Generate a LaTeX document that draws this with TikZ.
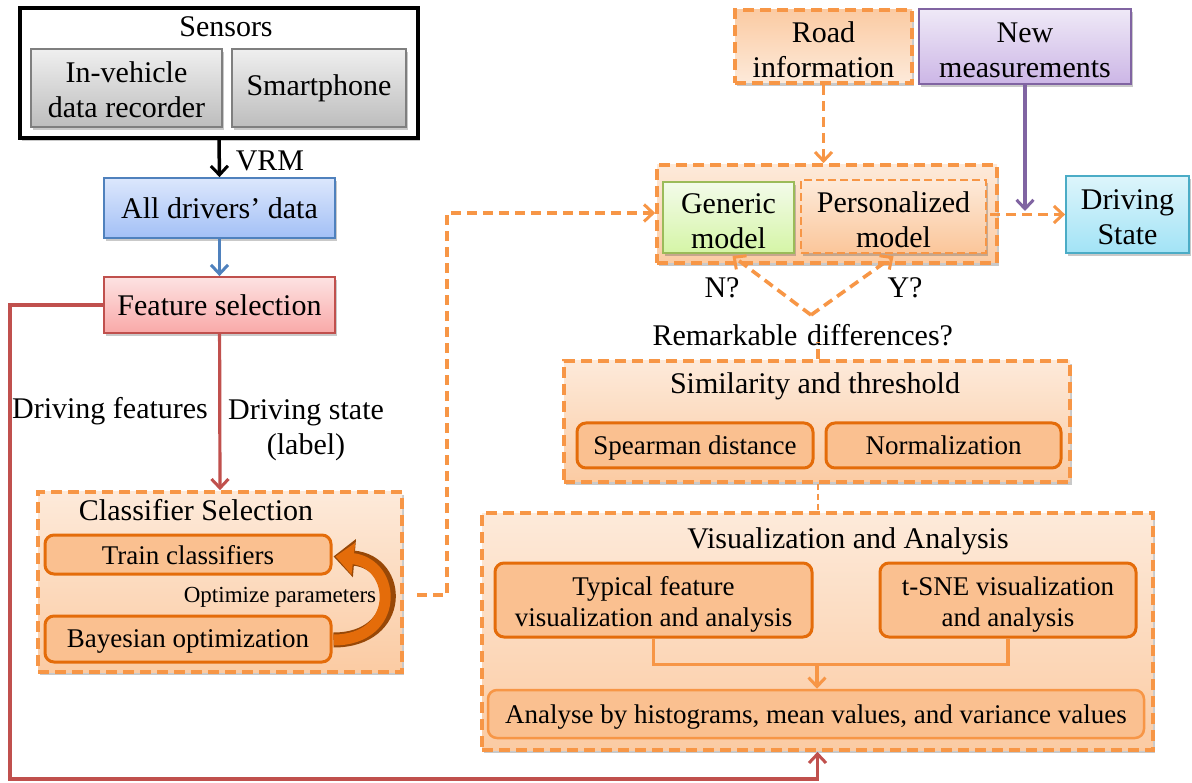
\documentclass[tikz,border=0pt]{standalone}
\usepackage{fontspec}
\setmainfont{Liberation Serif}
\usetikzlibrary{arrows.meta,shadows,calc}

\definecolor{ogLine}{HTML}{F79646}
\definecolor{ogDark}{HTML}{E46C0A}
\definecolor{ogFill}{HTML}{FAC090}
\definecolor{ogTop}{HTML}{FDEADA}
\definecolor{ogBot}{HTML}{FBCBA3}
\definecolor{grTop}{HTML}{EFEFEF}
\definecolor{grBot}{HTML}{BDBDBD}
\definecolor{grLine}{HTML}{7F7F7F}
\definecolor{blTop}{HTML}{DCE7FC}
\definecolor{blBot}{HTML}{A3C0F6}
\definecolor{blLine}{HTML}{4F81BD}
\definecolor{rdTop}{HTML}{FDE2E2}
\definecolor{rdBot}{HTML}{F9A9A8}
\definecolor{rdLine}{HTML}{C0504D}
\definecolor{gnTop}{HTML}{F3FBEA}
\definecolor{gnBot}{HTML}{D5F5A6}
\definecolor{gnLine}{HTML}{9BBB59}
\definecolor{puTop}{HTML}{EFE9F7}
\definecolor{puBot}{HTML}{CCB6E6}
\definecolor{puLine}{HTML}{8064A2}
\definecolor{cyTop}{HTML}{DDF5FB}
\definecolor{cyBot}{HTML}{A2E3F6}
\definecolor{cyLine}{HTML}{4BACC6}
\definecolor{arrDark}{HTML}{984807}

% two centred lines; the first baseline sits #1 above the node centre
\newcommand{\twoline}[2]{\raisebox{#1}[0pt][0pt]{\begin{tabular}[t]{@{}c@{}}#2\end{tabular}}}

\tikzset{
  fbig/.style={font=\fontsize{30}{35}\selectfont},
  fmid/.style={font=\fontsize{27}{31}\selectfont},
  fsmall/.style={font=\fontsize{23}{26}\selectfont},
  flat/.style={text depth=0pt},
  shade/.style={drop shadow={shadow xshift=2pt, shadow yshift=-3pt, opacity=0.3, fill=black!70}},
  box/.style={rectangle, align=center, inner sep=0pt, fbig, line width=1.8pt, shade},
  graybox/.style={box, draw=grLine, top color=grTop, bottom color=grBot},
  bluebox/.style={box, draw=blLine, top color=blTop, bottom color=blBot},
  redbox/.style={box, draw=rdLine, top color=rdTop, bottom color=rdBot},
  greenbox/.style={box, draw=gnLine, top color=gnTop, bottom color=gnBot},
  purplebox/.style={box, draw=puLine, top color=puTop, bottom color=puBot},
  cyanbox/.style={box, draw=cyLine, top color=cyTop, bottom color=cyBot},
  group/.style={rectangle, inner sep=0pt, draw=ogLine, line width=3.6pt,
    dash pattern=on 11pt off 6pt, top color=ogTop, bottom color=ogBot, shade},
  roadbox/.style={box, draw=ogLine, line width=3.6pt, dash pattern=on 11pt off 6pt,
    top color=ogBot, bottom color=ogTop},
  persbox/.style={box, draw=ogLine, line width=2.4pt, dash pattern=on 8pt off 4pt,
    top color=ogTop, bottom color=ogBot!90!ogLine, drop shadow={opacity=0}},
  innerbox/.style={rectangle, rounded corners=9pt, draw=ogDark, line width=3pt,
    fill=ogFill, align=center, inner sep=0pt, fmid},
  lightbox/.style={innerbox, draw=ogLine, line width=2.5pt},
  label/.style={align=center, inner sep=0pt},
  barb/.style={-{Straight Barb[length=9pt,width=17pt,line width=3pt]}},
  wire/.style={line width=3.2pt},
  dashwire/.style={wire, draw=ogLine, line width=3.6pt, dash pattern=on 10pt off 6pt},
}

\begin{document}
\begin{tikzpicture}[x=1pt,y=-1pt]
\useasboundingbox (0,0) rectangle (1192,783);

% ---------- sensors ----------
\node[box, draw=black, line width=4pt, fill=white, minimum width=398pt, minimum height=130pt] (sensors) at (219,73) {};
\node[label, fbig] (senstitle) at (226,27) {Sensors};
\node[graybox, minimum width=191pt, minimum height=78pt] (ivdr) at (126.5,88) {\twoline{5.2pt}{In-vehicle\\data recorder}};
\node[graybox, minimum width=174pt, minimum height=78pt] (smart) at (319,88) {Smartphone};

\node[bluebox, minimum width=231pt, minimum height=60pt] (alld) at (219.5,208) {All drivers' data};
\node[redbox, minimum width=231pt, minimum height=56pt] (feat) at (219.5,305) {Feature selection};

\node[label, fbig] (vrm) at (270,161) {VRM};
\node[label, fbig] (dfeat) at (110,411) {Driving features};
\node[label, fbig] (dstate) at (306,430) {Driving state\\(label)};

% ---------- classifier selection ----------
\node[group, minimum width=364pt, minimum height=180pt] (cls) at (220,582) {};
\node[label, fbig] (clstitle) at (196,510) {Classifier Selection};
\node[innerbox, flat, minimum width=286pt, minimum height=39pt] (train) at (188,554.5) {Train classifiers};
\node[innerbox, flat, minimum width=286pt, minimum height=46pt] (bayes) at (188,639) {Bayesian optimization};
\node[label, fsmall] (optlbl) at (280,597) {Optimize parameters};

% curved block arrow from the optimizer back to the classifiers
\draw[arrDark, line width=15pt, -{Triangle[length=21pt,width=37pt]}]
  ([xshift=1pt,yshift=-1pt]bayes.east) .. controls (404,640) and (402,562) .. ([xshift=1pt,yshift=-2pt]train.east);
\draw[ogDark, line width=11pt, -{Triangle[length=18pt,width=31pt]}]
  ([xshift=1pt,yshift=-1pt]bayes.east) .. controls (400,640) and (398,564) .. ([xshift=3pt,yshift=-2pt]train.east);

% ---------- model selection ----------
\node[roadbox, minimum width=177pt, minimum height=73pt] (road) at (823.5,46.5) {\twoline{3.8pt}{Road\\information}};
\node[purplebox, minimum width=212pt, minimum height=75pt] (newm) at (1025,46.5) {\twoline{3.8pt}{New\\measurements}};
\node[group, minimum width=340pt, minimum height=98pt] (model) at (827,214) {};
\node[greenbox, minimum width=131pt, minimum height=71pt, drop shadow={opacity=0}] (generic) at (728.5,217.5) {\twoline{3.8pt}{Generic\\model}};
\node[persbox, minimum width=185pt, minimum height=73pt] (pers) at (893.5,216.5) {\twoline{4.3pt}{Personalized\\model}};
\node[cyanbox, minimum width=123pt, minimum height=77pt] (ds) at (1127.5,214.5) {\twoline{5.2pt}{Driving\\State}};

\node[label, fbig] (nlbl) at (722,288) {N?};
\node[label, fbig] (ylbl) at (905,288) {Y?};
\node[label, fbig] (rem1) at (725,335) {Remarkable};
\node[label, fbig] (rem2) at (880,335) {differences?};

% ---------- similarity ----------
\node[group, minimum width=506pt, minimum height=121pt] (sim) at (817,421.5) {};
\node[label, fbig] (simtitle) at (815,386) {Similarity and threshold};
\node[innerbox, flat, minimum width=236pt, minimum height=45pt] (spear) at (695,445.5) {Spearman distance};
\node[innerbox, flat, minimum width=235pt, minimum height=45pt] (norm) at (943.5,445.5) {Normalization};

% ---------- visualization ----------
\node[group, minimum width=671pt, minimum height=237pt] (vis) at (817.5,631.5) {};
\node[label, fbig] (vistitle) at (848,541) {Visualization and Analysis};
\node[innerbox, minimum width=317pt, minimum height=74pt] (typ) at (653.5,600) {\twoline{4.3pt}{Typical feature\\visualization and analysis}};
\node[innerbox, minimum width=256pt, minimum height=74pt] (tsne) at (1008,600) {\twoline{4.3pt}{t-SNE visualization\\and analysis}};
\node[lightbox, flat, minimum width=656pt, minimum height=48pt] (ana) at (816,714) {Analyse by histograms, mean values, and variance values};

% ---------- connectors ----------
\draw[wire, black, line width=3.5pt, barb] (sensors.south) -- (alld.north);
\draw[wire, blLine, barb] (alld) -- (feat);
\draw[wire, rdLine, barb] (feat) -- (cls.north);

\coordinate (loopA) at (10,305);
\coordinate (loopB) at (10,779);
\draw[wire, rdLine, barb] (feat.west) -- (loopA) -- (loopB) -| (vis.south);

\coordinate (clsOut) at (417,595);
\coordinate (upA) at (447,595);
\coordinate (upB) at (447,213);
\draw[dashwire, barb] (clsOut) -- (upA) -- (upB) -- (upB -| model.west);

\draw[dashwire, barb] (road.south) -- (road.south |- model.north);
\coordinate (mjoin) at (1025,211);
\draw[wire, puLine, barb] (newm.south) -- (mjoin);
\draw[dashwire, barb] ([xshift=3pt]pers.east |- ds.west) -- (ds.west);

\coordinate (vtx) at (811,315);
\draw[dashwire, barb] (vtx) -- ([xshift=4pt,yshift=-2pt]generic.south);
\draw[dashwire, barb] (vtx) -- ([yshift=-2pt]pers.south);

\draw[dashwire] ([xshift=1pt]sim.north) -- ++(0,-17);
\draw[dashwire, line width=1.8pt, dash pattern=on 6pt off 4pt] ([xshift=1pt]sim.south) -- ([xshift=0.5pt]vis.north);

\coordinate (mjoin2) at (817,663);
\draw[wire, ogLine] (typ.south) -- ++(0,26) -| (tsne.south);
\draw[wire, ogLine, barb] (mjoin2) -- (mjoin2 |- ana.north);
\end{tikzpicture}
\end{document}
